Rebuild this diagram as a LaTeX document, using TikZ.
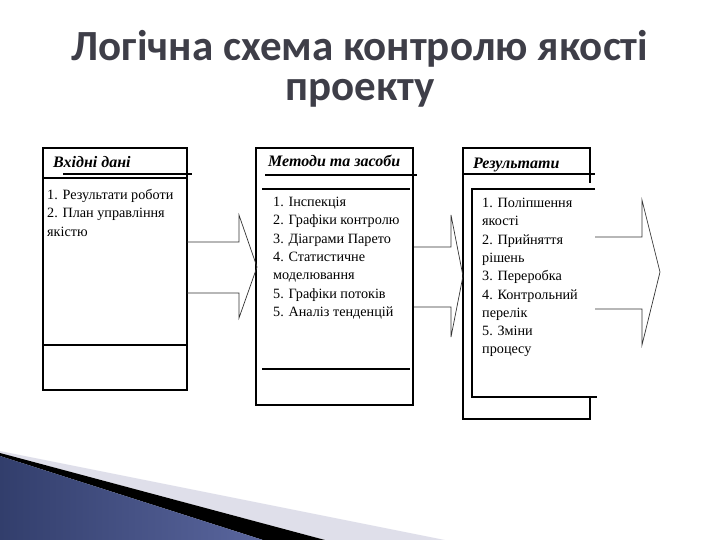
\documentclass[tikz,border=0pt]{standalone}
\usepackage{fontspec}
\setmainfont{Liberation Serif}
\newfontfamily\titlefont{Carlito}
\definecolor{titlecol}{HTML}{3E3E48}
\definecolor{navyA}{HTML}{323E6C}
\definecolor{navyB}{HTML}{7A85BA}
\definecolor{navyC}{HTML}{5A669E}
\definecolor{lav}{HTML}{DFDFEA}
\begin{document}
\begin{tikzpicture}[x=1pt,y=-1pt,
  boxline/.style={line width=1.1pt,black},
  arrowline/.style={line width=0.7pt,black!80},
  itemtext/.style={anchor=base west,inner sep=0pt,font=\fontsize{14.2}{16}\selectfont},
  headtext/.style={anchor=base west,inner sep=0pt,font=\fontsize{16}{18}\selectfont\bfseries\itshape},
  titletext/.style={anchor=base,inner sep=0pt,text=titlecol,font=\titlefont\fontsize{43}{48}\selectfont\bfseries}]
\useasboundingbox (0,0) rectangle (720,540);

% bottom-left decoration
\fill[lav] (0,451) -- (445,540) -- (325,540) -- (0,453) -- cycle;
\fill[black] (0,453) -- (325,540) -- (263,540) -- (0,456) -- cycle;
\shade[left color=navyA,middle color=navyB,right color=navyC] (0,456) -- (263,540) -- (0,540) -- cycle;

% title
\node[titletext] (t1) at (360,61) {Логічна схема контролю якості};
\node[titletext] (t2) at (360,101) {проекту};

% ---- box 1
\draw[boxline] (43,148) rectangle (187,390);
\draw[boxline] (63,174) -- (192,174);
\draw[boxline] (43,178) -- (187,178);
\draw[boxline] (43,345) -- (187,345);
\node[headtext] (h1) at (53,168) {Вхідні дані};
\node[itemtext] (a1) at (47,199.5) {1. Результати роботи};
\node[itemtext] (a2) at (47,218) {2. План управління};
\node[itemtext] (a3) at (47,236.5) {якістю};

% ---- box 2
\draw[boxline] (256,148) rectangle (413,405);
\draw[boxline] (265,175) -- (417,175);
\draw[boxline] (262,189) -- (410,189);
\draw[boxline] (262,369) -- (410,369);
\node[headtext] (h2) at (268,167) {Методи та засоби};
\foreach \t [count=\i from 0] in {1. Інспекція,2. Графіки контролю,3. Діаграми Парето,4. Статистичне,моделювання,5. Графіки потоків,5. Аналіз тенденцій}
  \node[itemtext] (b\i) at (273,206.5+18.3*\i) {\t};

% ---- box 3
\draw[boxline] (590,183) -- (590,148) -- (463,148) -- (463,419) -- (590,419) -- (590,397);
\draw[boxline] (463,174) -- (595,174);
\draw[boxline] (595,189) -- (472,189) -- (472,397) -- (597,397);
\node[headtext] (h3) at (473,169) {Результати};
\foreach \t [count=\i from 0] in {1. Поліпшення,якості,2. Прийняття,рішень,3. Переробка,4. Контрольний,перелік,5. Зміни,процесу}
  \node[itemtext] (c\i) at (482,207.5+18.3*\i) {\t};

% ---- block arrows
\coordinate (p1) at (187,242); \coordinate (q1) at (187,293);
\draw[arrowline] (p1) -- (239,242) -- (239,215) -- (257,267) -- (239,318) -- (239,293) -- (q1);
\coordinate (p2) at (414,247); \coordinate (q2) at (414,307);
\draw[arrowline] (p2) -- (451,247) -- (451,215) -- (463,276) -- (451,337) -- (451,307) -- (q2);
\coordinate (p3) at (595,237); \coordinate (q3) at (595,309);
\draw[arrowline] (p3) -- (642,237) -- (642,200) -- (660,272) -- (642,345) -- (642,309) -- (q3);
\end{tikzpicture}
\end{document}
